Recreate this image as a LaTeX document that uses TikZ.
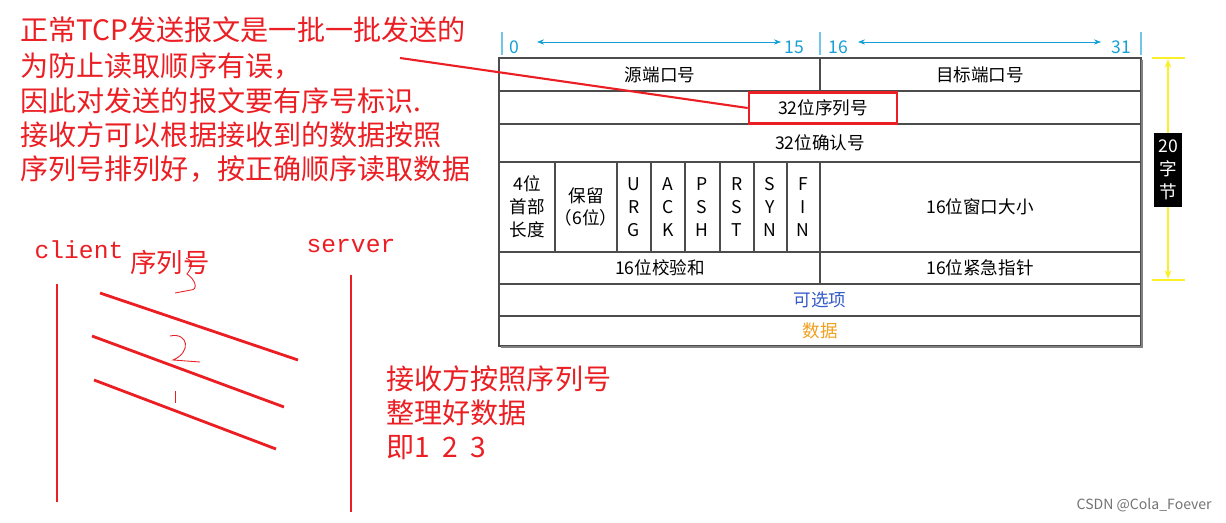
\documentclass[tikz,border=0pt]{standalone}
\usepackage{fontspec}
\setmainfont{Noto Sans CJK SC}
\setmonofont{Liberation Mono}
\usetikzlibrary{arrows.meta,positioning}
\definecolor{mred}{RGB}{235,30,35}
\definecolor{mcyan}{RGB}{20,160,215}
\definecolor{mblue}{RGB}{50,90,200}
\definecolor{morange}{RGB}{240,160,30}
\definecolor{myellow}{RGB}{250,240,40}

\begin{document}
\begin{tikzpicture}[x=0.02cm,y=-0.02cm,>=Stealth]
  \tikzset{
    note/.style  = {text=mred, font=\fontsize{16}{19}\selectfont, anchor=west, inner sep=0pt},
    cell/.style  = {font=\fontsize{10}{12}\selectfont, inner sep=0pt},
    flag/.style  = {font=\fontsize{10}{13}\selectfont, align=center, inner sep=0pt},
    rline/.style = {mred, line width=1.6pt},
    grid/.style  = {draw=black!70, line width=0.6pt}
  }
  \useasboundingbox (0,0) rectangle (1226,523);

  % ========= left notes =========
  \node[note] (n1) at (20,30)  {正常TCP发送报文是一批一批发送的};
  \node[note] (n2) at (20,66)  {为防止读取顺序有误，};
  \node[note] (n3) at (20,101) {因此对发送的报文要有序号标识.};
  \node[note] (n4) at (20,135) {接收方可以根据接收到的数据按照};
  \node[note] (n5) at (20,169) {序列号排列好，按正确顺序读取数据};

  % ========= TCP header =========
  % outer frame and row lines
  \draw[grid] (499,58) rectangle (1141,346);
  \foreach \y in {91,124,162,252,284,316} { \draw[grid] (499,\y) -- (1141,\y); }
  \draw[grid] (820,58) -- (820,91);
  \draw[grid] (820,162) -- (820,284);
  \foreach \x in {555,617,651,685,720,754,787} { \draw[grid] (\x,162) -- (\x,252); }
  \draw[black!50, line width=1.2pt] (1142,60) -- (1142,347) -- (501,347);

  % bit scale
  \foreach \x in {502,820,1141} { \draw[mcyan!60, line width=0.8pt] (\x,32) -- (\x,55); }
  \node[text=mcyan, cell] (b0)  at (514,47)  {0};
  \node[text=mcyan, cell] (b15) at (794,47)  {15};
  \node[text=mcyan, cell] (b16) at (838,47)  {16};
  \node[text=mcyan, cell] (b31) at (1121,47) {31};
  \draw[mcyan, {Stealth[length=4pt]}-{Stealth[length=4pt]}] (537,42) -- (781,42);
  \draw[mcyan, {Stealth[length=4pt]}-{Stealth[length=4pt]}] (858,42) -- (1101,42);

  % cell texts
  \node[cell] (src) at (660,75)  {源端口号};
  \node[cell] (dst) at (980,75)  {目标端口号};
  \node[cell, draw=mred, line width=1.5pt, minimum width=148*0.02cm, minimum height=31*0.02cm] (seq) at (823,108) {32位序列号};
  \node[cell] (ack) at (820,143) {32位确认号};
  \node[flag] (hl)  at (527,207) {4位\\首部\\长度};
  \node[flag] (rsv) at (586,207) {保留\\（6位）};
  \node[flag] (urg) at (634,207) {U\\R\\G};
  \node[flag] (ak)  at (668,207) {A\\C\\K};
  \node[flag] (psh) at (702,207) {P\\S\\H};
  \node[flag] (rst) at (737,207) {R\\S\\T};
  \node[flag] (syn) at (770,207) {S\\Y\\N};
  \node[flag] (fin) at (803,207) {F\\I\\N};
  \node[cell] (win) at (980,207) {16位窗口大小};
  \node[cell] (chk) at (660,268) {16位校验和};
  \node[cell] (urp) at (980,268) {16位紧急指针};
  \node[cell, text=mblue]   (opt)  at (820,300) {可选项};
  \node[cell, text=morange] (data) at (820,331) {数据};

  % 20 bytes marker
  \draw[myellow, line width=1.2pt] (1152,58) -- (1185,58);
  \draw[myellow, line width=1.2pt] (1152,280) -- (1185,280);
  \draw[myellow, line width=1.2pt, {Stealth[length=5pt]}-{Stealth[length=5pt]}] (1168,59) -- (1168,279);
  \node[fill=black, text=white, flag, minimum width=28*0.02cm, minimum height=74*0.02cm] (len) at (1168,170) {20\\字\\节};

  % pointer from note to sequence field
  \coordinate (p0) at (400,58);
  \draw[mred, line width=1.2pt] (p0) -- (seq.west);

  % ========= client / server sketch =========
  \node[text=mred, font=\ttfamily\fontsize{14}{16}\selectfont, inner sep=0pt] (cl) at (79,250) {client};
  \node[text=mred, font=\ttfamily\fontsize{14}{16}\selectfont, inner sep=0pt] (sv) at (351,246) {server};
  \node[text=mred, font=\fontsize{15}{18}\selectfont, inner sep=0pt] (sq) at (170,262) {序列号};
  \draw[rline] (57,284) -- (57,502);
  \draw[rline] (351,275) -- (351,512);
  \draw[rline] (100,293) -- (298,360);
  \draw[rline] (92,336) -- (284,407);
  \draw[rline] (94,380) -- (276,449);
  % handwritten digits
  \draw[mred, line width=0.5pt] (186,258) .. controls (196,262) and (190,270) .. (187,274)
    .. controls (196,280) and (198,290) .. (191,290) -- (175,293);
  \draw[mred, line width=0.5pt] (170,336) .. controls (188,332) and (192,352) .. (173,360) -- (200,362);
  \draw[mred, line width=0.5pt] (175,391) -- (175,403);

  % right notes
  \node[note] (r1) at (386,379) {接收方按照序列号};
  \node[note] (r2) at (386,413) {整理好数据};
  \node[note] (r3) at (386,448) {即1\ \ 2\ \ 3};

  % watermark
  \node[text=black!55, font=\fontsize{8}{10}\selectfont, anchor=east, inner sep=0pt] (wm) at (1212,505) {CSDN @Cola\_Foever};
\end{tikzpicture}
\end{document}
